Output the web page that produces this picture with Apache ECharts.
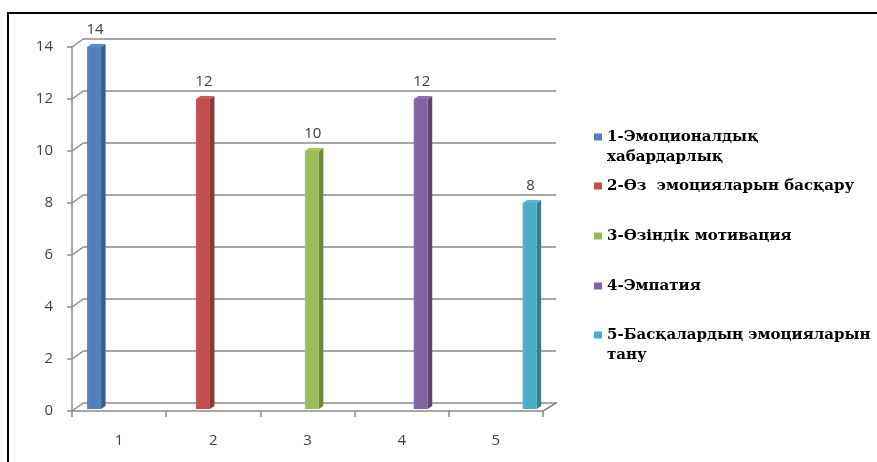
<!DOCTYPE html>
<html><head><meta charset="utf-8">
<script src="https://cdn.jsdelivr.net/npm/echarts@6/dist/echarts.min.js"></script>
<style>
html,body{margin:0;padding:0;background:#fff}
#wrap{position:relative;width:877px;height:462px;overflow:hidden}
#c{width:877px;height:462px}
#frame{position:absolute;left:7px;top:12px;width:870px;height:450px;border-top:2px solid #000;border-left:2px solid #000;box-sizing:border-box;pointer-events:none}
</style>
</head><body>
<div id="wrap"><div id="c"></div><div id="frame"></div></div>
<script>
// ---- data ----
const categories = ['1', '2', '3', '4', '5'];
const seriesNames = ['1-Эмоционалдық\nхабардарлық', '2-Өз  эмоцияларын басқару', '3-Өзіндік мотивация', '4-Эмпатия', '5-Басқалардың эмоцияларын\nтану'];
const values = [14, 12, 10, 12, 8];
const yTicks = [0, 2, 4, 6, 8, 10, 12, 14];

// ---- styles ----
const frontColors = ['#4F81BD', '#C0504D', '#9BBB59', '#8064A2', '#4BACC6'];
const sideColors = ['#385D8A', '#8C3836', '#71893F', '#5C4776', '#357D91'];
const topColors = ['#5B8CC6', '#CB5C59', '#A6C565', '#8B70AD', '#58B7D0'];
const legendTops = [106, 175, 225, 275, 304];
const DEPTH_X = 12, DEPTH_Y = 8.5;
const gridColor = '#8a8a8a';
const labelFont = 'Open Sans';

const chart = echarts.init(document.getElementById('c'), null, {renderer: 'canvas'});

function barRenderer(k) {
  return function (params, api) {
    const cat = api.value(0), v = api.value(1);
    const catW = api.size([1, 0])[0];
    const base = api.coord([cat, 0]);
    const topP = api.coord([cat, v]);
    const cx = base[0] + ((k - 2) * 0.156 + 0.046) * catW;
    const fw = 0.149 * catW;
    const x0 = cx - fw / 2, x1 = cx + fw / 2;
    const yb = base[1] - 2, yt = topP[1];
    const dx = 4.5, dy = 3;
    return {
      type: 'group',
      children: [
        {type: 'polygon', shape: {points: [[x1, yb], [x1, yt], [x1 + dx, yt - dy], [x1 + dx, yb - dy]]},
          style: {fill: sideColors[k]}},
        {type: 'polygon', shape: {points: [[x0, yt], [x1, yt], [x1 + dx, yt - dy], [x0 + dx, yt - dy]]},
          style: {fill: topColors[k]}},
        {type: 'rect', shape: {x: x0, y: yt, width: fw, height: yb - yt},
          style: {fill: new echarts.graphic.LinearGradient(0, 0, 1, 0, [
            {offset: 0, color: topColors[k]}, {offset: 0.2, color: frontColors[k]}, {offset: 1, color: frontColors[k]}])}},
        {type: 'text', style: {text: String(v), x: cx + 1, y: yt - 10, align: 'center', verticalAlign: 'bottom',
          font: '15px "' + labelFont + '"', fill: '#404040'}}
      ]
    };
  };
}

const barSeries = seriesNames.map((name, k) => ({
  type: 'custom', name: name, xAxisIndex: 0, yAxisIndex: 0,
  itemStyle: {color: frontColors[k]},
  data: [[k, values[k]]],
  renderItem: barRenderer(k), z: 5
}));

const diagSeries = {
  type: 'custom', xAxisIndex: 0, yAxisIndex: 0, silent: true, z: 2,
  data: yTicks.map(t => [0, t]),
  renderItem: function (params, api) {
    const catW = api.size([1, 0])[0];
    const p = api.coord([0, api.value(1)]);
    const lx = p[0] - catW / 2;
    const children = [{type: 'line', shape: {x1: lx, y1: p[1], x2: lx + DEPTH_X, y2: p[1] - DEPTH_Y},
      style: {stroke: gridColor, lineWidth: 1.5}}];
    if (api.value(1) === 0) {
      const rx = api.coord([categories.length - 1, 0])[0] + catW / 2;
      children.push({type: 'line', shape: {x1: rx, y1: p[1], x2: rx + DEPTH_X + 2, y2: p[1] - DEPTH_Y},
        style: {stroke: gridColor, lineWidth: 1.5}});
    }
    return {type: 'group', children: children};
  }
};

const legends = seriesNames.map((name, k) => ({
  data: [name], orient: 'vertical', left: 594, top: legendTops[k] + 1, padding: 0,
  icon: 'rect', itemWidth: 8, itemHeight: 7, selectedMode: false,
  formatter: n => (n.indexOf('\n') >= 0 ? ' \n' + n : n),
  textStyle: {fontFamily: 'DejaVu Serif', fontWeight: 'bold', fontSize: 15, color: '#000', lineHeight: 20}
}));

const option = {
  backgroundColor: '#fff',
  animation: false,
  grid: [
    {left: 72, top: 47, width: 471, height: 364},
    {left: 84, top: 38.5, width: 472, height: 364}
  ],
  xAxis: [
    {type: 'category', gridIndex: 0, data: categories, boundaryGap: true,
      axisLine: {show: true, lineStyle: {color: gridColor, width: 1.5}},
      axisTick: {show: true, length: 6, lineStyle: {color: gridColor, width: 1.5}},
      axisLabel: {margin: 22, fontFamily: labelFont, fontSize: 15, color: '#404040'},
      splitLine: {show: false}},
    {type: 'category', gridIndex: 1, data: categories, show: false}
  ],
  yAxis: [
    {type: 'value', gridIndex: 0, min: 0, max: 14, interval: 2,
      axisLine: {show: true, lineStyle: {color: gridColor, width: 1.5}},
      axisTick: {show: true, length: 5, lineStyle: {color: gridColor, width: 1.5}},
      axisLabel: {margin: 19, fontFamily: labelFont, fontSize: 15, color: '#404040'},
      splitLine: {show: false}},
    {type: 'value', gridIndex: 1, min: 0, max: 14, interval: 2,
      axisLine: {show: false}, axisTick: {show: false}, axisLabel: {show: false},
      splitLine: {show: true, lineStyle: {color: gridColor, width: 1.5}}}
  ],
  legend: legends,
  series: [diagSeries].concat(barSeries)
};
chart.setOption(option);
</script>
</body></html>
